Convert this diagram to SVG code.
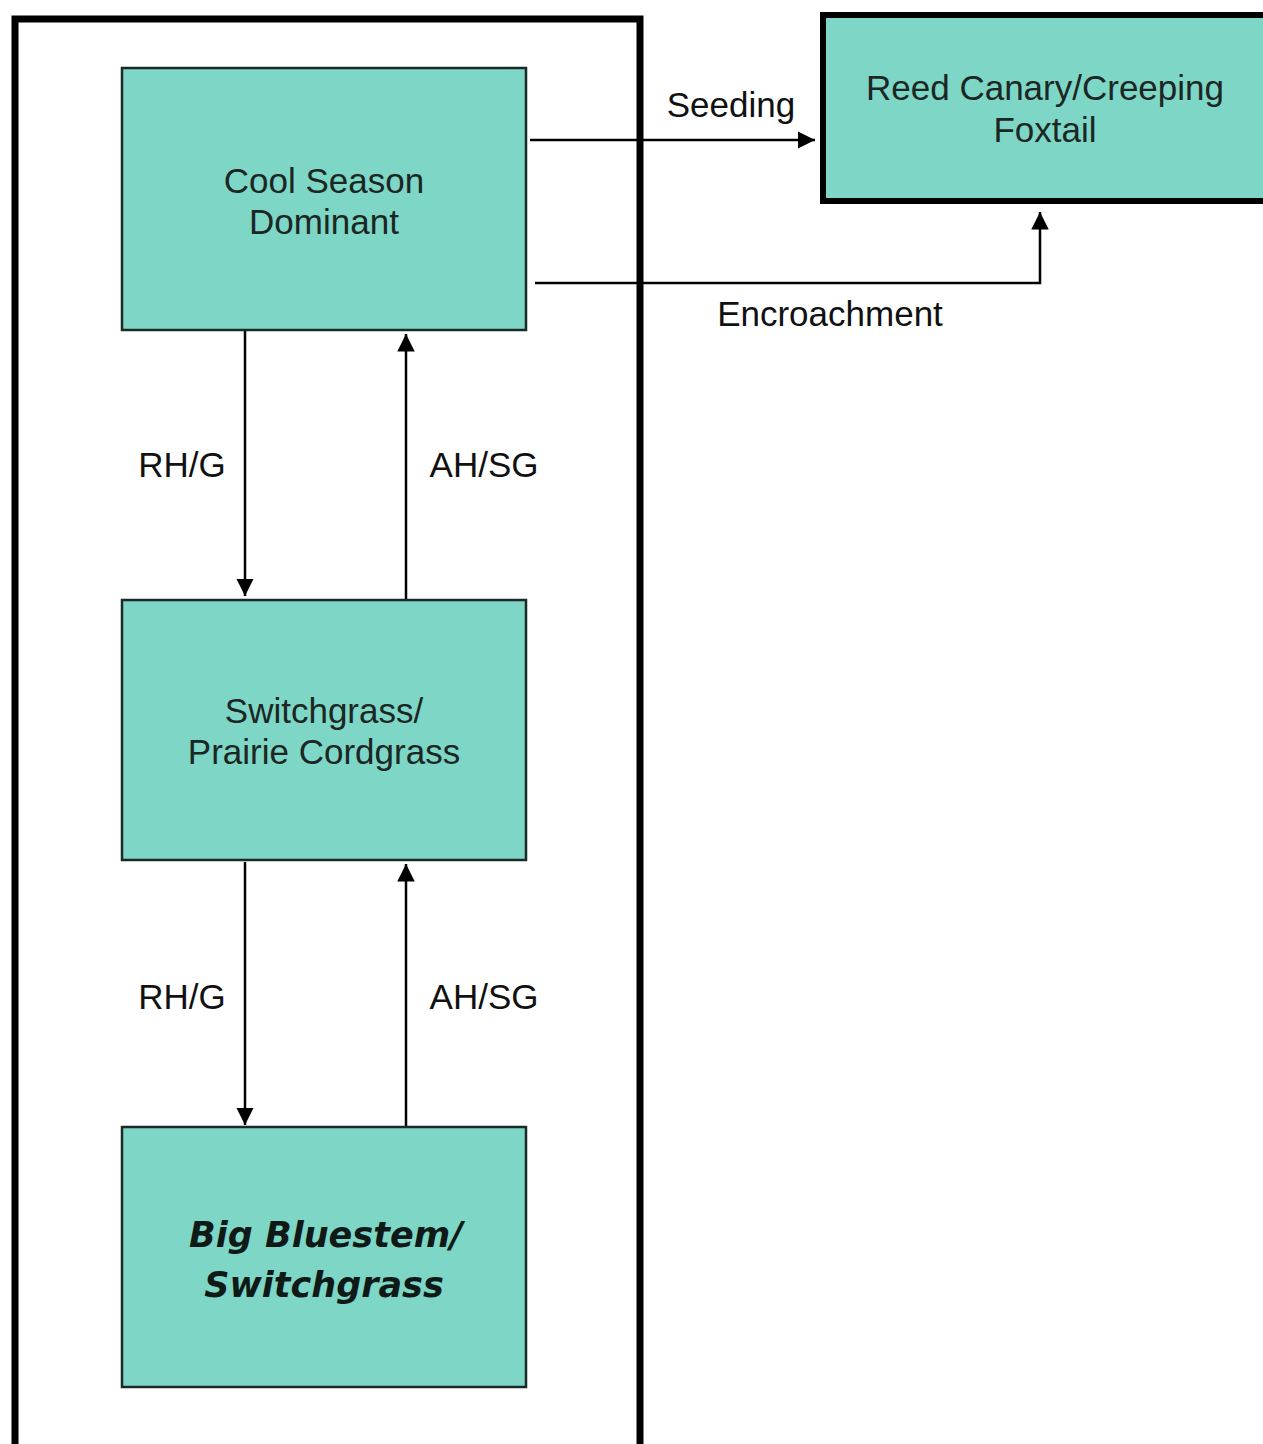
<svg xmlns="http://www.w3.org/2000/svg" width="1263" height="1444" viewBox="0 0 1263 1444">
<style>
.box{fill:#7dd6c6;stroke:#1a2a26;stroke-width:2.5}
.t{font-family:"Liberation Sans",Arial,sans-serif;font-size:35px;fill:#1c2622;text-anchor:middle}
.l{font-family:"Liberation Sans",Arial,sans-serif;font-size:35px;fill:#111;text-anchor:middle}
.bi{font-family:"DejaVu Sans",Verdana,sans-serif;font-size:35px;font-weight:bold;font-style:italic;fill:#0f1a17;text-anchor:middle}
.c{fill:none;stroke:#000;stroke-width:2.5}
</style>
<defs>
<marker id="ah" viewBox="0 0 10 10" refX="10" refY="5" markerWidth="7" markerHeight="7" orient="auto" markerUnits="strokeWidth">
<path d="M0,0 L10,5 L0,10 z" fill="#000"/>
</marker>
</defs>
<rect width="1263" height="1444" fill="#fff"/>
<g id="frame">
<path d="M15,1450 V19 H640 V1450" fill="none" stroke="#000" stroke-width="7"/>
</g>
<g id="connectors">
<line class="c" x1="530" y1="140" x2="815" y2="140" marker-end="url(#ah)"/>
<polyline class="c" points="535,283 1040,283 1040,212" marker-end="url(#ah)"/>
<line class="c" x1="245" y1="331" x2="245" y2="596" marker-end="url(#ah)"/>
<line class="c" x1="406" y1="599" x2="406" y2="334" marker-end="url(#ah)"/>
<line class="c" x1="245" y1="862" x2="245" y2="1125" marker-end="url(#ah)"/>
<line class="c" x1="406" y1="1126" x2="406" y2="864" marker-end="url(#ah)"/>
<text class="l" x="731" y="117">Seeding</text>
<text class="l" x="830" y="326">Encroachment</text>
<text class="l" x="182" y="477">RH/G</text>
<text class="l" x="484" y="477">AH/SG</text>
<text class="l" x="182" y="1009">RH/G</text>
<text class="l" x="484" y="1009">AH/SG</text>
</g>
<g id="cool-season">
<rect class="box" x="122" y="68" width="404" height="262"/>
<text class="t" x="324" y="193">Cool Season</text>
<text class="t" x="324" y="234">Dominant</text>
</g>
<g id="reed-canary">
<rect x="823" y="15" width="450" height="186" fill="#7dd6c6" stroke="#000" stroke-width="6"/>
<text class="t" x="1045" y="100">Reed Canary/Creeping</text>
<text class="t" x="1045" y="142">Foxtail</text>
</g>
<g id="switchgrass">
<rect class="box" x="122" y="600" width="404" height="260"/>
<text class="t" x="324" y="723">Switchgrass/</text>
<text class="t" x="324" y="764">Prairie Cordgrass</text>
</g>
<g id="big-bluestem">
<rect class="box" x="122" y="1127" width="404" height="260"/>
<text class="bi" x="326" y="1247">Big Bluestem/</text>
<text class="bi" x="324" y="1297">Switchgrass</text>
</g>
</svg>
